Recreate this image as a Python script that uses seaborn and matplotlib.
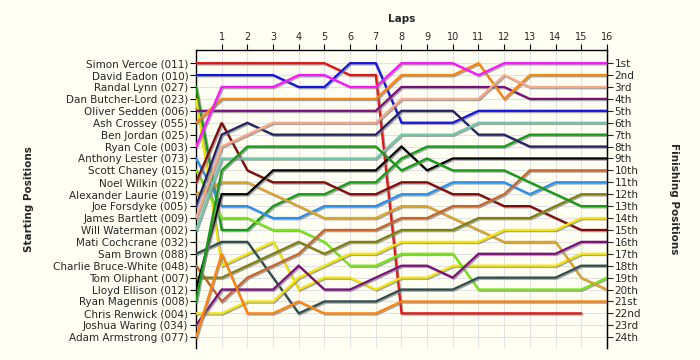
import pandas as pd
import matplotlib
matplotlib.use('Agg')
import matplotlib.pyplot as plt
import matplotlib.patheffects as pe
import seaborn as sns

# 起跑順序 (第0圈)
starters = [
    'Simon Vercoe (011)', 'David Eadon (010)', 'Randal Lynn (027)', 'Dan Butcher-Lord (023)',
    'Oliver Sedden (006)', 'Ash Crossey (055)', 'Ben Jordan (025)', 'Ryan Cole (003)',
    'Anthony Lester (073)', 'Scott Chaney (015)', 'Noel Wilkin (022)', 'Alexander Laurie (019)',
    'Joe Forsdyke (005)', 'James Bartlett (009)', 'Will Waterman (002)', 'Mati Cochcrane (032)',
    'Sam Brown (088)', 'Charlie Bruce-White (048)', 'Tom Oliphant (007)', 'Lloyd Ellison (012)',
    'Ryan Magennis (008)', 'Chris Renwick (004)', 'Joshua Waring (034)', 'Adam Armstrong (077)',
]
finish_labels = ['1st', '2nd', '3rd'] + [f'{i}th' for i in range(4, 21)] + ['21st', '22nd', '23rd', '24th']
laps = list(range(0, 17))

# 每位車手各圈名次 (第0圈起)
pos_011 = [1, 1, 1, 1, 1, 1, 2, 2, 22, 22, 22, 22, 22, 22, 22, 22]
pos_010 = [2, 2, 2, 2, 3, 3, 1, 1, 6, 6, 6, 5, 5, 5, 5, 5, 5]
pos_027 = [3, 15, 15, 13, 12, 12, 11, 11, 9, 8, 8, 8, 8, 7, 7, 7, 7]
pos_023 = [4, 18, 17, 16, 20, 19, 19, 20, 19, 19, 18, 18, 18, 18, 18, 17, 17]
pos_006 = [5, 5, 5, 5, 5, 5, 5, 5, 3, 3, 3, 3, 3, 4, 4, 4, 4]
pos_055 = [6, 4, 4, 4, 4, 4, 4, 4, 2, 2, 2, 1, 4, 2, 2, 2, 2]
pos_003 = [8, 3, 3, 3, 2, 2, 3, 3, 1, 1, 1, 2, 1, 1, 1, 1, 1]
pos_073 = [9, 13, 13, 14, 14, 13, 13, 13, 12, 12, 11, 11, 11, 12, 11, 11, 11]
pos_015 = [10, 14, 14, 15, 15, 16, 18, 18, 17, 17, 17, 20, 20, 20, 20, 20, 19]
pos_022 = [11, 6, 10, 11, 11, 11, 12, 12, 11, 11, 12, 12, 13, 13, 14, 15, 15]
pos_019 = [12, 11, 11, 12, 13, 14, 14, 14, 13, 13, 14, 15, 16, 16, 16, 19, 20]
pos_005 = [13, 7, 6, 7, 7, 7, 7, 7, 5, 5, 5, 7, 7, 8, 8, 8, 8]
pos_009 = [14, 8, 7, 6, 6, 6, 6, 6, 4, 4, 4, 4, 2, 3, 3, 3, 3]
pos_002 = [15, 9, 9, 9, 9, 9, 9, 9, 7, 7, 7, 6, 6, 6, 6, 6, 6]
pos_088 = [17, 16, 16, 19, 22, 21, 21, 21, 20, 20, 20, 19, 19, 19, 19, 18, 18]
pos_048 = [18, 21, 19, 18, 17, 15, 15, 15, 14, 14, 13, 13, 12, 10, 10, 10, 10]
pos_007 = [19, 19, 18, 17, 16, 17, 16, 16, 15, 15, 15, 14, 14, 14, 13, 12, 12]
pos_012 = [20, 12, 12, 10, 10, 10, 10, 10, 8, 10, 9, 9, 9, 9, 9, 9, 9]
pos_008 = [21, 10, 8, 8, 8, 8, 8, 8, 10, 9, 10, 10, 10, 11, 12, 13, 13]
pos_004 = [22, 22, 21, 21, 19, 18, 17, 17, 16, 16, 16, 16, 15, 15, 15, 14, 14]
pos_034 = [23, 20, 20, 20, 18, 20, 20, 19, 18, 18, 19, 17, 17, 17, 17, 16, 16]
pos_077 = [24, 17, 22, 22, 21, 22, 22, 22, 21, 21, 21, 21, 21, 21, 21, 21, 21]

tracks = [
    ('Simon Vercoe (011)', pos_011, '#e41414'),
    ('David Eadon (010)', pos_010, '#1414e0'),
    ('Randal Lynn (027)', pos_027, '#149c14'),
    ('Dan Butcher-Lord (023)', pos_023, '#f5e60a'),
    ('Oliver Sedden (006)', pos_006, '#7a107a'),
    ('Ash Crossey (055)', pos_055, '#ff840a'),
    ('Ryan Cole (003)', pos_003, '#ff14ff'),
    ('Anthony Lester (073)', pos_073, '#2890f0'),
    ('Scott Chaney (015)', pos_015, '#78e614'),
    ('Noel Wilkin (022)', pos_022, '#800a0a'),
    ('Alexander Laurie (019)', pos_019, '#daa52a'),
    ('Joe Forsdyke (005)', pos_005, '#232364'),
    ('James Bartlett (009)', pos_009, '#f8a88a'),
    ('Will Waterman (002)', pos_002, '#70c8aa'),
    ('Sam Brown (088)', pos_088, '#2f4c4c'),
    ('Charlie Bruce-White (048)', pos_048, '#c8642a'),
    ('Tom Oliphant (007)', pos_007, '#808010'),
    ('Lloyd Ellison (012)', pos_012, '#000000'),
    ('Ryan Magennis (008)', pos_008, '#149c14'),
    ('Chris Renwick (004)', pos_004, '#f5e60a'),
    ('Joshua Waring (034)', pos_034, '#7a107a'),
    ('Adam Armstrong (077)', pos_077, '#ff840a'),
]

rows = []
for name, positions, _ in tracks:
    for lap, p in zip(laps, positions):
        rows.append({'driver': name, 'lap': lap, 'pos': p})
df = pd.DataFrame(rows)
palette = {name: color for name, _, color in tracks}

sns.set_style('white')
plt.rcParams['font.family'] = ['DejaVu Sans']

bg = '#fffff4'
fig = plt.figure(figsize=(7, 3.6), dpi=100, facecolor=bg)
ax = fig.add_axes([0.28, 0.033, 0.587, 0.828])
ax.set_facecolor(bg)

sns.lineplot(data=df, x='lap', y='pos', hue='driver', palette=palette,
             estimator=None, sort=False, legend=False, linewidth=1.6, ax=ax)

# 線條陰影
shadow = [pe.SimpleLineShadow(offset=(0.9, -0.9), shadow_color='#808080', alpha=0.7), pe.Normal()]
for line in ax.lines:
    line.set_path_effects(shadow)
    line.set_solid_joinstyle('miter')
    line.set_zorder(3)

ax.set_xlim(0, 16)
ax.set_ylim(24.92, -0.1)

ax.xaxis.tick_top()
ax.set_xticks(range(1, 17))
ax.set_xticklabels([str(i) for i in range(1, 17)], fontsize=7)
ax.set_yticks(range(1, 25))
ax.set_yticklabels(starters, fontsize=7.5)
ax.tick_params(axis='both', direction='out', length=4, width=0.8, color='black', pad=1.5)
ax.grid(True, color='#e2e2e2', linewidth=0.8, zorder=0)
ax.set_axisbelow(True)

for side in ['left', 'right', 'top']:
    ax.spines[side].set_visible(True)
    ax.spines[side].set_color('black')
    ax.spines[side].set_linewidth(1.0)
ax.spines['bottom'].set_visible(False)

ax.set_xlabel('Laps', fontsize=7.5, fontweight='bold')
ax.xaxis.set_label_position('top')
ax.xaxis.set_label_coords(0.5, 1.095)
ax.set_ylabel('Starting Positions', fontsize=7.5, fontweight='bold')
ax.yaxis.set_label_coords(-0.395, 0.5)

ax2 = ax.twinx()
ax2.set_ylim(ax.get_ylim())
ax2.set_yticks(range(1, 25))
ax2.set_yticklabels(finish_labels, fontsize=7.5)
ax2.tick_params(axis='y', direction='out', length=4, width=0.8, pad=1.5)
ax2.spines['bottom'].set_visible(False)
ax2.spines['top'].set_visible(False)
ax2.spines['left'].set_visible(False)
ax2.spines['right'].set_color('black')
ax2.set_ylabel('Finishing Positions', fontsize=7.5, fontweight='bold', rotation=270, va='bottom')
ax2.yaxis.set_label_coords(1.15, 0.5)

fig.savefig('out.png', dpi=100, facecolor=bg)
